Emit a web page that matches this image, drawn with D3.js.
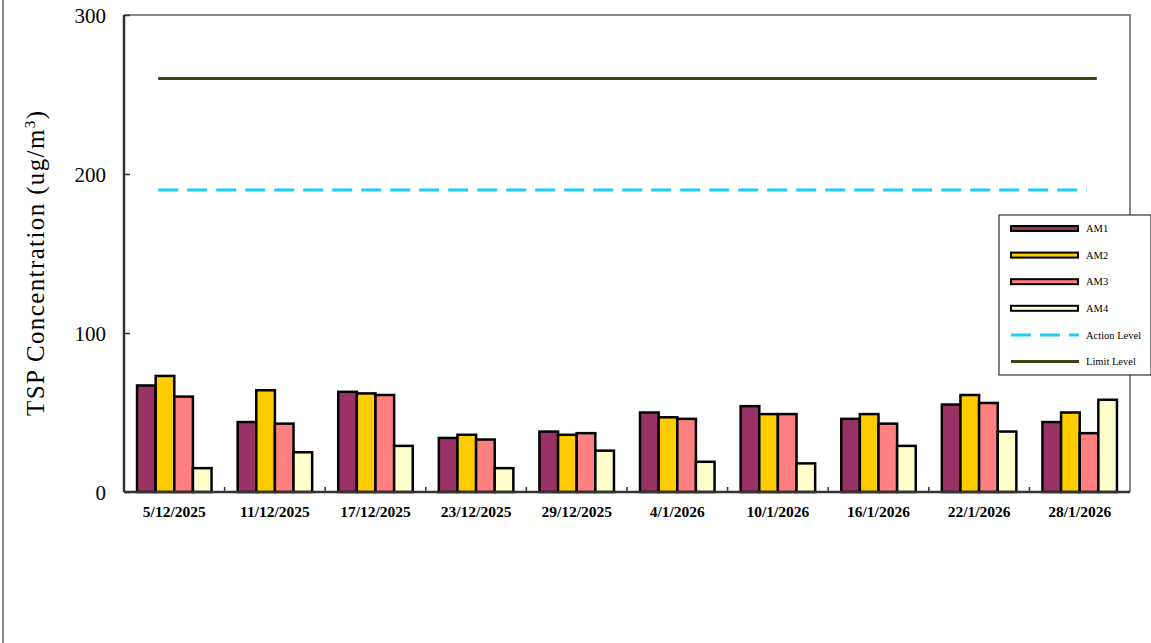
<!DOCTYPE html>
<html lang="en">
<head>
    <meta charset="UTF-8">
    <title>TSP Concentration</title>
    <script src="https://d3js.org/d3.v7.min.js"></script>
    <style>
        body { margin: 0; background: #fff; }
        svg text { font-family: "Liberation Serif", serif; fill: #000; }
    </style>
</head>
<body>
<svg width="1151" height="643"></svg>
<script type="text/javascript">
    // data
    const dates = ["5/12/2025", "11/12/2025", "17/12/2025", "23/12/2025", "29/12/2025",
                   "4/1/2026", "10/1/2026", "16/1/2026", "22/1/2026", "28/1/2026"];
    const am1 = [67, 44, 63, 34, 38, 50, 54, 46, 55, 44];
    const am2 = [73, 64, 62, 36, 36, 47, 49, 49, 61, 50];
    const am3 = [60, 43, 61, 33, 37, 46, 49, 43, 56, 37];
    const am4 = [15, 25, 29, 15, 26, 19, 18, 29, 38, 58];
    const actionLevel = 190;
    const limitLevel = 260;
    const yTicks = [0, 100, 200, 300];

    const stations = ["AM1", "AM2", "AM3", "AM4"];
    const colors = {AM1: "#993366", AM2: "#FFCC00", AM3: "#FF8080", AM4: "#FFFFCC"};
    const values = {AM1: am1, AM2: am2, AM3: am3, AM4: am4};
    const serif = "'Liberation Serif', serif";

    function draw() {
        let svg = d3.select("svg");
        let margin = {left: 124, right: 1130, top: 15, bottom: 492};

        // outer chart border (only left edge visible)
        svg.append("line")
            .attr("x1", 3).attr("x2", 3).attr("y1", 0).attr("y2", 643)
            .attr("stroke", "#888").attr("stroke-width", 2);

        let x = d3.scaleBand()
            .domain(dates)
            .range([margin.left, margin.right]);

        let x1 = d3.scaleBand()
            .domain(stations)
            .range([0, x.bandwidth()])
            .paddingOuter(0.7)
            .paddingInner(0);

        let y = d3.scaleLinear()
            .domain([0, 300])
            .range([margin.bottom, margin.top]);

        // plot area frame: top and right gray
        svg.append("path")
            .attr("d", `M${margin.left},${margin.top}H${margin.right}V${margin.bottom}`)
            .attr("fill", "none").attr("stroke", "#888").attr("stroke-width", 2);

        // bars
        let groups = svg.append("g").selectAll("g")
            .data(dates)
            .join("g")
            .attr("transform", d => `translate(${x(d)},0)`);

        groups.selectAll("rect")
            .data((d, i) => stations.map(s => ({s: s, v: values[s][i]})))
            .join("rect")
            .attr("x", d => x1(d.s))
            .attr("y", d => y(d.v))
            .attr("width", x1.bandwidth())
            .attr("height", d => y(0) - y(d.v))
            .attr("fill", d => colors[d.s])
            .attr("stroke", "#000")
            .attr("stroke-width", 2.5);

        // level lines
        let lx1 = x(dates[0]) + x.bandwidth() * 0.34;
        let lx2 = x(dates[dates.length - 1]) + x.bandwidth() * 0.67;
        svg.append("line")
            .attr("x1", lx1).attr("x2", lx2 - 10)
            .attr("y1", y(actionLevel)).attr("y2", y(actionLevel))
            .attr("stroke", "#1ECCF5").attr("stroke-width", 3)
            .attr("stroke-dasharray", "20,9");
        svg.append("line")
            .attr("x1", lx1).attr("x2", lx2)
            .attr("y1", y(limitLevel)).attr("y2", y(limitLevel))
            .attr("stroke", "#41410f").attr("stroke-width", 3);

        // y axis
        let yAxis = svg.append("g")
            .attr("transform", `translate(${margin.left},0)`)
            .call(d3.axisRight(y).tickValues(yTicks).tickSize(6).tickFormat(d3.format("d")));
        yAxis.attr("font-family", null);
        yAxis.select(".domain").attr("stroke", "#333").attr("stroke-width", 2.5)
            .attr("d", `M0,${margin.top}V${margin.bottom}`);
        yAxis.selectAll(".tick line").attr("stroke", "#333").attr("stroke-width", 1.5);
        yAxis.selectAll(".tick text")
            .attr("x", -18).attr("dy", "0.35em")
            .attr("text-anchor", "end")
            .style("font-size", "21px")
            .style("font-family", serif);

        // x axis
        let xAxis = svg.append("g")
            .attr("transform", `translate(0,${margin.bottom})`)
            .call(d3.axisBottom(x).tickSize(0));
        xAxis.attr("font-family", null);
        xAxis.select(".domain").attr("stroke", "#333").attr("stroke-width", 2.5)
            .attr("d", `M${margin.left},0H${margin.right}`);
        xAxis.selectAll(".tick text")
            .attr("y", 25)
            .attr("dy", "0")
            .style("font-size", "15.5px")
            .style("font-weight", "bold")
            .style("font-family", serif);
        // category boundary ticks pointing inward
        xAxis.selectAll("line.sep")
            .data(dates.slice(1))
            .join("line")
            .attr("class", "sep")
            .attr("x1", d => x(d)).attr("x2", d => x(d))
            .attr("y1", 0).attr("y2", -5)
            .attr("stroke", "#333").attr("stroke-width", 1.5);

        // y title
        let title = svg.append("text")
            .attr("transform", "translate(44,263.5) rotate(-90)")
            .attr("text-anchor", "middle")
            .attr("textLength", 305)
            .attr("lengthAdjust", "spacing")
            .style("font-family", serif)
            .style("font-size", "25px");
        title.append("tspan").text("TSP Concentration (ug/m");
        title.append("tspan").text("3").attr("dy", -9).style("font-size", "15px");
        title.append("tspan").text(")").attr("dy", 9);

        // legend
        let legend = svg.append("g").attr("transform", "translate(999,215)");
        legend.append("rect")
            .attr("width", 152).attr("height", 160)
            .attr("fill", "#fff").attr("stroke", "#333").attr("stroke-width", 1.2);
        let items = stations.map(s => ({name: s, type: "bar", color: colors[s]}))
            .concat([{name: "Action Level", type: "dash", color: "#1ECCF5"},
                     {name: "Limit Level", type: "line", color: "#41410f"}]);
        let row = legend.selectAll("g.item")
            .data(items)
            .join("g")
            .attr("class", "item")
            .attr("transform", (d, i) => `translate(0,${13.5 + i * 26.6})`);
        row.filter(d => d.type === "bar").append("rect")
            .attr("x", 12).attr("y", -2.5).attr("width", 67).attr("height", 5)
            .attr("fill", d => d.color).attr("stroke", "#000").attr("stroke-width", 2);
        row.filter(d => d.type !== "bar").append("line")
            .attr("x1", 12).attr("x2", 80).attr("y1", 0).attr("y2", 0)
            .attr("stroke", d => d.color).attr("stroke-width", 3)
            .attr("stroke-dasharray", d => d.type === "dash" ? "20,9" : null);
        row.append("text")
            .attr("x", 87).attr("y", 0).attr("dy", "0.35em")
            .style("font-family", serif)
            .style("font-size", "10.5px")
            .text(d => d.name);
    }
    draw();
</script>
</body>
</html>
